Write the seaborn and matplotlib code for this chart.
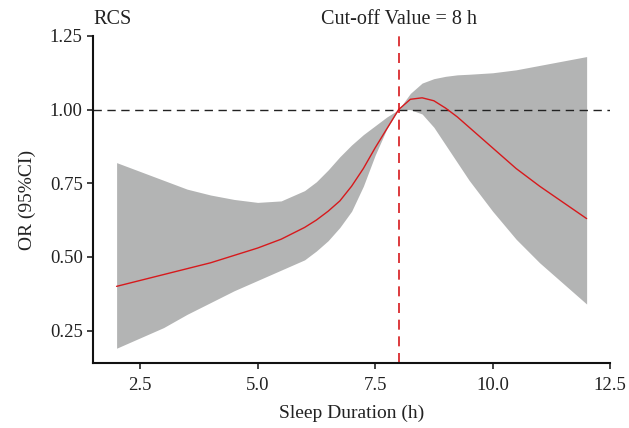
import matplotlib
matplotlib.use("Agg")
import matplotlib.pyplot as plt
import seaborn as sns
import pandas as pd

# sleep duration grid (h) and restricted cubic spline estimates
sleep_hours = [2, 2.5, 3, 3.5, 4, 4.5, 5, 5.5, 6, 6.25, 6.5, 6.75, 7, 7.25, 7.5, 7.75, 8,
               8.25, 8.5, 8.75, 9, 9.25, 9.5, 10, 10.5, 11, 11.5, 12]
or_est = [0.40, 0.42, 0.44, 0.46, 0.48, 0.505, 0.53, 0.56, 0.60, 0.625, 0.655, 0.69, 0.74,
          0.80, 0.87, 0.935, 1.00,
          1.035, 1.04, 1.03, 1.005, 0.975, 0.94, 0.87, 0.80, 0.74, 0.685, 0.63]
ci_lower = [0.19, 0.225, 0.26, 0.305, 0.345, 0.385, 0.42, 0.455, 0.49, 0.52, 0.555, 0.60, 0.655,
            0.74, 0.845, 0.935, 1.00,
            1.00, 0.985, 0.94, 0.88, 0.82, 0.76, 0.655, 0.56, 0.48, 0.41, 0.34]
ci_upper = [0.82, 0.79, 0.76, 0.73, 0.71, 0.695, 0.685, 0.69, 0.725, 0.755, 0.795, 0.84, 0.88,
            0.915, 0.945, 0.975, 1.00,
            1.055, 1.09, 1.105, 1.113, 1.118, 1.12, 1.125, 1.135, 1.15, 1.165, 1.18]

cutoff = 8
x_ticks = [2.5, 5.0, 7.5, 10.0, 12.5]
y_ticks = [0.25, 0.50, 0.75, 1.00, 1.25]

df = pd.DataFrame({"sleep": sleep_hours, "or": or_est, "lo": ci_lower, "hi": ci_upper})

sns.set_style("ticks")
plt.rcParams["font.family"] = ["Liberation Serif", "DejaVu Serif"]

fig = plt.figure(figsize=(6.29, 4.28), dpi=100)
ax = fig.add_axes([0.148, 0.152, 0.822, 0.764])

ax.fill_between(df["sleep"], df["lo"], df["hi"], color="#b3b4b4", linewidth=0, zorder=1)
sns.lineplot(data=df, x="sleep", y="or", color="#d7191c", linewidth=1.0, ax=ax, zorder=3)

ax.axhline(1.0, color="#222222", linestyle=(0, (6, 4)), linewidth=1.0, zorder=2)
ax.axvline(cutoff, color="#d7191c", linestyle=(0, (6, 4)), linewidth=1.2, zorder=2)

ax.set_xlim(1.5, 12.5)
ax.set_ylim(0.14, 1.25)
ax.set_xticks(x_ticks)
ax.set_xticklabels([f"{t:.1f}" for t in x_ticks])
ax.set_yticks(y_ticks)
ax.set_yticklabels([f"{t:.2f}" for t in y_ticks])
ax.tick_params(axis="both", labelsize=13.5, length=4, width=1.2, colors="#222222")
ax.tick_params(axis="x", pad=6)

ax.set_xlabel("Sleep Duration (h)", fontsize=14, color="#222222", labelpad=8)
ax.set_ylabel("OR (95%CI)", fontsize=14, color="#222222", labelpad=10)

for side in ["top", "right"]:
    ax.spines[side].set_visible(False)
for side in ["left", "bottom"]:
    ax.spines[side].set_linewidth(1.5)
    ax.spines[side].set_color("#111111")

ax.text(0.0, 1.02, "RCS", transform=ax.transAxes, fontsize=14.5,
        color="#222222", ha="left", va="bottom")
ax.text(cutoff, 1.02, f"Cut-off Value = {cutoff} h", transform=ax.get_xaxis_transform(),
        fontsize=14.5, color="#222222", ha="center", va="bottom")

fig.savefig("out.png", dpi=100)
